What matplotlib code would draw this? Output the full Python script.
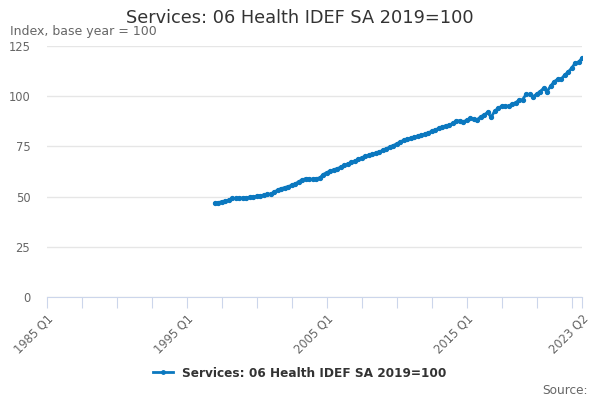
import matplotlib
matplotlib.use("Agg")
import matplotlib.pyplot as plt
from matplotlib.lines import Line2D

TITLE = "Services: 06 Health IDEF SA 2019=100"
SERIES_NAME = "Services: 06 Health IDEF SA 2019=100"
UNIT_LABEL = "Index, base year = 100"

START_YEAR = 1997
# quarterly values, 1997 Q1 .. 2023 Q2
values = [
    46.6, 47.0, 47.5, 47.8,     # 1997
    48.3, 49.1, 49.1, 49.2,     # 1998
    49.4, 49.5, 49.7, 49.9,     # 1999
    50.2, 50.4, 50.8, 51.1,     # 2000
    51.3, 52.3, 53.3, 54.0,     # 2001
    54.5, 55.0, 55.7, 56.3,     # 2002
    57.5, 58.3, 59.0, 58.8,     # 2003
    58.6, 59.0, 59.3, 61.0,     # 2004
    62.0, 62.7, 63.4, 63.9,     # 2005
    64.7, 65.5, 66.3, 67.0,     # 2006
    67.6, 68.5, 69.4, 70.0,     # 2007
    70.5, 71.1, 71.7, 72.3,     # 2008
    73.0, 73.8, 74.7, 75.4,     # 2009
    76.3, 77.2, 78.1, 78.6,     # 2010
    79.0, 79.6, 80.2, 80.6,     # 2011
    81.0, 81.8, 82.5, 83.2,     # 2012
    84.0, 84.7, 85.3, 85.5,     # 2013
    86.5, 87.6, 87.8, 87.3,     # 2014
    88.0, 89.0, 88.7, 88.2,     # 2015
    89.8, 90.6, 92.0, 89.5,     # 2016
    92.5, 94.0, 95.0, 95.1,     # 2017
    95.1, 96.0, 96.8, 98.0,     # 2018
    98.3, 100.9, 100.9, 99.8,   # 2019
    101.0, 102.3, 103.9, 102.3, # 2020
    105.0, 107.2, 108.4, 108.4, # 2021
    110.5, 112.0, 113.9, 116.4, # 2022
    117.0, 118.9,               # 2023
]

# axis runs 1985 Q1 .. 2023 Q2, index 0 = 1985 Q1
AXIS_START = 1985
axis_end = (2023 - AXIS_START) * 4 + 1
tick_labels = {0: "1985 Q1", 40: "1995 Q1", 80: "2005 Q1", 120: "2015 Q1", axis_end: "2023 Q2"}
y_ticks = [0, 25, 50, 75, 100, 125]

offset = (START_YEAR - AXIS_START) * 4
x = [offset + i for i in range(len(values))]

color = "#0b78bf"
grey = "#666666"

fig = plt.figure(figsize=(6, 4), dpi=100)
ax = fig.add_axes([0.0783, 0.2575, 0.8917, 0.6275])

ax.plot(x, values, color=color, lw=2, marker="o", markersize=2.8, zorder=3)

ax.set_xlim(0, axis_end)
ax.set_ylim(0, 125)
ax.set_yticks(y_ticks)
ax.set_yticklabels([str(v) for v in y_ticks], color=grey, fontsize=8.3)
ax.tick_params(axis="y", length=0, pad=12)
ax.grid(axis="y", color="#e6e6e6", lw=1)
ax.set_axisbelow(True)

major = list(range(0, axis_end, 10)) + [axis_end]
ax.set_xticks(major)
ax.set_xticklabels([tick_labels.get(t, "") for t in major], rotation=45,
                   ha="right", rotation_mode="anchor", color=grey, fontsize=8.3)
ax.tick_params(axis="x", length=8, color="#ccd6eb", pad=3)

for side in ["top", "right", "left"]:
    ax.spines[side].set_visible(False)
ax.spines["bottom"].set_color("#ccd6eb")

fig.text(0.5, 0.955, TITLE, ha="center", va="center", fontsize=12.8, color="#333333")
fig.text(10 / 600, 0.92, UNIT_LABEL, ha="left", va="center", fontsize=9, color=grey)

handle = Line2D([], [], color=color, lw=2, marker="o", markersize=2.5)
fig.legend([handle], [SERIES_NAME], loc="center", bbox_to_anchor=(0.5, 0.067),
           frameon=False, prop={"weight": "bold", "size": 8.7}, handlelength=1.6,
           labelcolor="#333333")
fig.text(588 / 600, 0.025, "Source:", ha="right", va="center", fontsize=8.7, color=grey)

fig.savefig("out.png", dpi=100)
